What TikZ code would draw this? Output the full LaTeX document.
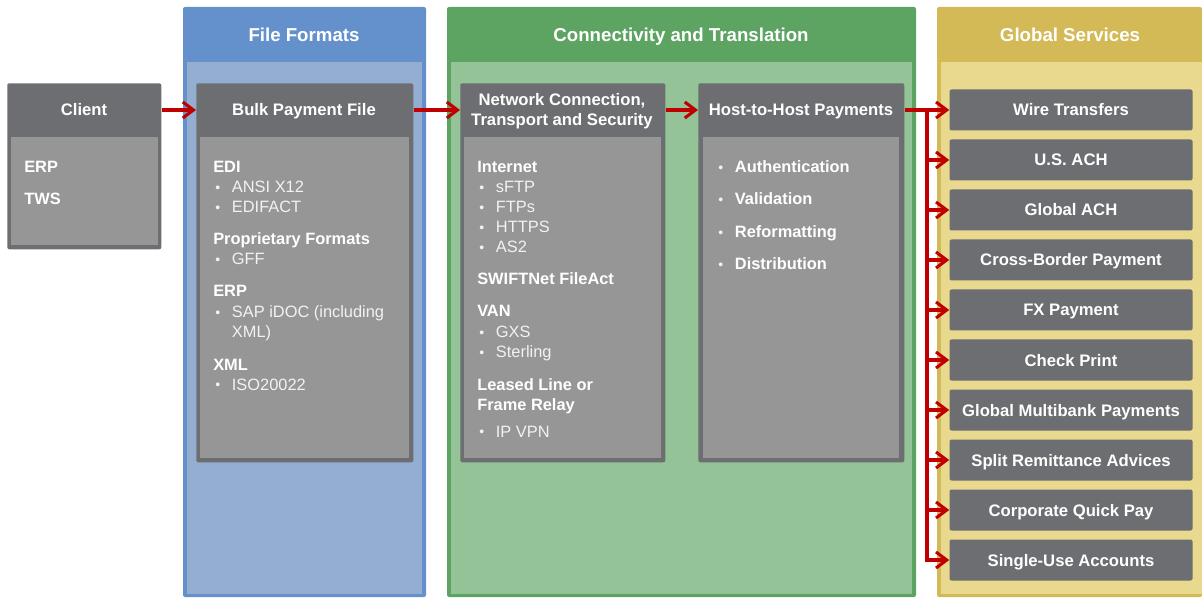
\documentclass[tikz,border=0pt]{standalone}
\usepackage{fontspec}
\setmainfont{Liberation Sans}
\usepackage{xcolor}
\usetikzlibrary{positioning}
\usetikzlibrary{arrows.meta}
\usetikzlibrary{calc}

\definecolor{dkgray}{HTML}{6D6E71}
\definecolor{bdgray}{HTML}{969696}
\definecolor{ffhead}{HTML}{6491CB}
\definecolor{ffbody}{HTML}{93AED0}
\definecolor{cthead}{HTML}{5DA463}
\definecolor{ctbody}{HTML}{93C397}
\definecolor{gshead}{HTML}{D4B957}
\definecolor{gsbody}{HTML}{E8D98E}
\definecolor{arrred}{HTML}{C00000}
\definecolor{txtwhite}{HTML}{F2F2F2}

\newcommand{\grp}[1]{\textbf{\color{white}#1}}
\newcommand{\blt}[1]{\hspace*{1.5pt}\makebox[12.5pt][l]{\raisebox{0.6pt}{\fontsize{10.5}{10}\selectfont\textbullet}}#1}
\newcommand{\cnt}[1]{\hspace*{14pt}#1}

\begin{document}
\begin{tikzpicture}[x=0.75pt,y=-0.75pt,
    boxsize/.style 2 args={minimum width=#1*0.75pt,minimum height=#2*0.75pt},
    panel/.style={fill=dkgray,rounded corners=1.5pt,inner sep=0pt,anchor=north west},
    head/.style={text=white,align=center,font=\fontsize{12.5}{15}\selectfont\bfseries},
    title/.style={anchor=base,text=white,font=\fontsize{14}{17}\selectfont\bfseries},
    txt/.style={anchor=base west,inner sep=0pt,text=txtwhite,font=\fontsize{12.3}{15}\selectfont},
    service/.style={fill=dkgray,rounded corners=1.5pt,inner sep=0pt,boxsize={243}{41},
                    text height=9pt,text depth=0pt,
                    text=white,font=\fontsize{12.5}{15}\selectfont\bfseries},
    link/.style={draw=arrred,line width=2.3pt,-{Straight Barb[length=8pt,width=12pt]}}]
\useasboundingbox (0,0) rectangle (1202,598);

% columns
\fill[ffhead,rounded corners=1.5pt] (183,7) rectangle (426,597);
\fill[ffbody] (187,62) rectangle (422,594);
\node[title] (ffT) at (304,42) {File Formats};

\fill[cthead,rounded corners=1.5pt] (447,7) rectangle (916,597);
\fill[ctbody] (451,62) rectangle (912,594);
\node[title] (ctT) at (681,42) {Connectivity and Translation};

\fill[gshead,rounded corners=1.5pt] (937,7) rectangle (1202,597);
\fill[gsbody] (941,62) rectangle (1202,594);
\node[title] (gsT) at (1070,42) {Global Services};

% client
\node[panel,boxsize={154}{166}] (client) at (7,83) {};
\fill[bdgray] (11,137) rectangle (158,245);
\node[head,anchor=base] (clientT) at (84,116) {Client};
\foreach \y/\t [count=\i] in {167/{\grp{ERP}}, 199/{\grp{TWS}}}
  \node[txt] (client\i) at (24,\y+6) {\t};

% bulk payment file
\node[panel,boxsize={217}{379}] (bulk) at (196,83) {};
\fill[bdgray] (200,137) rectangle (409,458);
\node[head,anchor=base] (bulkT) at (304,116) {Bulk Payment File};
\foreach \y/\t [count=\i] in {167/{\grp{EDI}}, 187/{\blt{ANSI X12}}, 207/{\blt{EDIFACT}},
    239/{\grp{Proprietary Formats}}, 259/{\blt{GFF}}, 291/{\grp{ERP}},
    312/{\blt{SAP iDOC (including}}, 332/{\cnt{XML)}}, 364/{\grp{XML}}, 384/{\blt{ISO20022}}}
  \node[txt] (bulk\i) at (213,\y+6) {\t};

% network connection
\node[panel,boxsize={205}{379}] (net) at (460,83) {};
\fill[bdgray] (464,137) rectangle (661,458);
\node[head] (netT) at (562,111) {Network Connection,\\Transport and Security};
\foreach \y/\t [count=\i] in {167/{\grp{Internet}}, 187/{\blt{sFTP}}, 207/{\blt{FTPs}},
    227/{\blt{HTTPS}}, 247/{\blt{AS2}}, 279/{\grp{SWIFTNet FileAct}}, 311/{\grp{VAN}},
    332/{\blt{GXS}}, 352/{\blt{Sterling}}, 384/{\grp{Leased Line or}},
    404/{\grp{Frame Relay}}, 431/{\blt{IP VPN}}}
  \node[txt] (net\i) at (477,\y+6) {\t};

% host-to-host
\node[panel,boxsize={206}{379}] (host) at (698,83) {};
\fill[bdgray] (703,137) rectangle (899,458);
\node[head,anchor=base] (hostT) at (801,116) {Host-to-Host Payments};
\foreach \y/\t [count=\i] in {167/Authentication, 199/Validation, 232/Reformatting, 264/Distribution}
  \node[txt] (host\i) at (716,\y+6) {\blt{\grp{\t}}};

% services
\foreach \s [count=\i from 0] in {Wire Transfers, U.S. ACH, Global ACH, Cross-Border Payment,
    FX Payment, Check Print, Global Multibank Payments, Split Remittance Advices,
    Corporate Quick Pay, Single-Use Accounts}
  \node[service] (svc\i) at (1071,{110+50*\i}) {\s};

% connectors
\coordinate (row) at (0,110);
\draw[link] (client.east |- row) -- (bulk.west |- row);
\draw[link] (bulk.east |- row) -- (net.west |- row);
\draw[link] (net.east |- row) -- (host.west |- row);
\draw[link] (host.east |- row) -- (svc0.west);
\coordinate (split) at (927,110);
\foreach \i in {1,...,8}
  \draw[link] (split |- svc\i) -- (svc\i.west);
\draw[link] (split) -- (split |- svc9) -- (svc9.west);
\end{tikzpicture}
\end{document}
